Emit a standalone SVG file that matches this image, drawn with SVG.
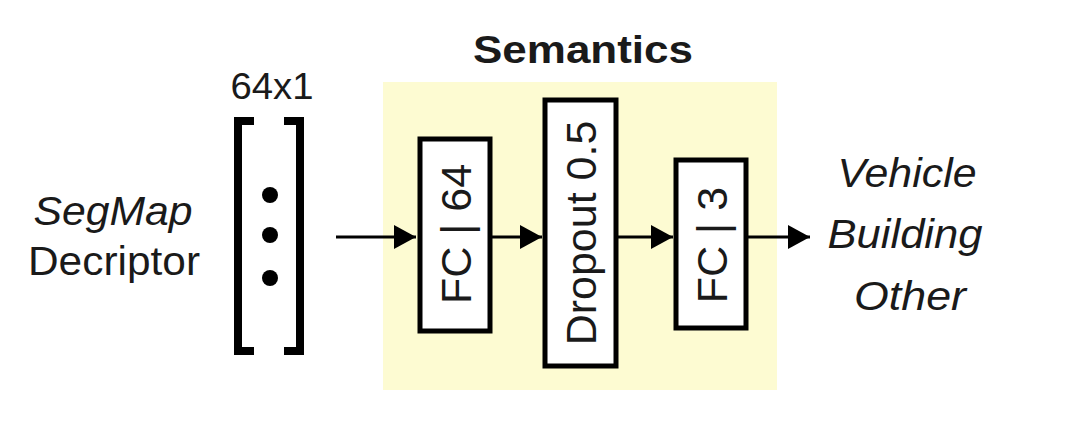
<svg xmlns="http://www.w3.org/2000/svg" width="1080" height="430" viewBox="0 0 1080 430">
<style>
.t{font-family:"Liberation Sans",Arial,sans-serif;fill:#1a1a1a}
.it{font-style:italic}
.box{fill:#ffffff;stroke:#000;stroke-width:5}
.edge{stroke:#000;stroke-width:3;fill:none}
.br{stroke:#000;stroke-width:8;fill:none}
</style>
<defs>
<marker id="ah" viewBox="0 0 22 24" refX="22" refY="12" markerWidth="22" markerHeight="24" markerUnits="userSpaceOnUse" orient="auto">
<path d="M0,0 L22,12 L0,24 Z" fill="#000"/>
</marker>
</defs>
<rect width="1080" height="430" fill="#ffffff"/>
<g id="semantics-group">
<rect x="383" y="82" width="394" height="308" fill="#fdfbd2"/>
<text class="t" x="583" y="63" font-size="39" font-weight="bold" text-anchor="middle" textLength="220" lengthAdjust="spacingAndGlyphs">Semantics</text>
</g>
<g id="input-label">
<text class="t it" x="113" y="225" font-size="40" text-anchor="middle" textLength="159" lengthAdjust="spacingAndGlyphs">SegMap</text>
<text class="t" x="114" y="275" font-size="40" text-anchor="middle" textLength="172" lengthAdjust="spacingAndGlyphs">Decriptor</text>
</g>
<g id="descriptor-vector">
<text class="t" x="272" y="99" font-size="36" text-anchor="middle" textLength="83" lengthAdjust="spacingAndGlyphs">64x1</text>
<path class="br" d="M254,121 L238,121 L238,351 L254,351"/>
<path class="br" d="M284,121 L300,121 L300,351 L284,351"/>
<circle cx="270" cy="195" r="8" fill="#000"/>
<circle cx="270" cy="235" r="8" fill="#000"/>
<circle cx="270" cy="278" r="8" fill="#000"/>
</g>
<g id="fc64">
<rect class="box" x="420" y="139" width="70" height="192"/>
<text class="t" transform="translate(471,234) rotate(-90)" font-size="43" text-anchor="middle">FC | 64</text>
</g>
<g id="dropout">
<rect class="box" x="545" y="100" width="71" height="266"/>
<text class="t" transform="translate(596,233) rotate(-90)" font-size="43" text-anchor="middle">Dropout 0.5</text>
</g>
<g id="fc3">
<rect class="box" x="676" y="160" width="70" height="168"/>
<text class="t" transform="translate(727,245) rotate(-90)" font-size="43" text-anchor="middle">FC | 3</text>
</g>
<g id="outputs">
<text class="t it" x="907" y="187" font-size="40" text-anchor="middle" textLength="139" lengthAdjust="spacingAndGlyphs">Vehicle</text>
<text class="t it" x="905" y="248" font-size="40" text-anchor="middle" textLength="155" lengthAdjust="spacingAndGlyphs">Building</text>
<text class="t it" x="910" y="310" font-size="40" text-anchor="middle" textLength="112" lengthAdjust="spacingAndGlyphs">Other</text>
</g>
<g id="connectors">
<line class="edge" x1="336" y1="237" x2="416" y2="237" marker-end="url(#ah)"/>
<line class="edge" x1="492" y1="237" x2="542" y2="237" marker-end="url(#ah)"/>
<line class="edge" x1="618" y1="237" x2="673" y2="237" marker-end="url(#ah)"/>
<line class="edge" x1="748" y1="237" x2="810" y2="237" marker-end="url(#ah)"/>
</g>
</svg>
